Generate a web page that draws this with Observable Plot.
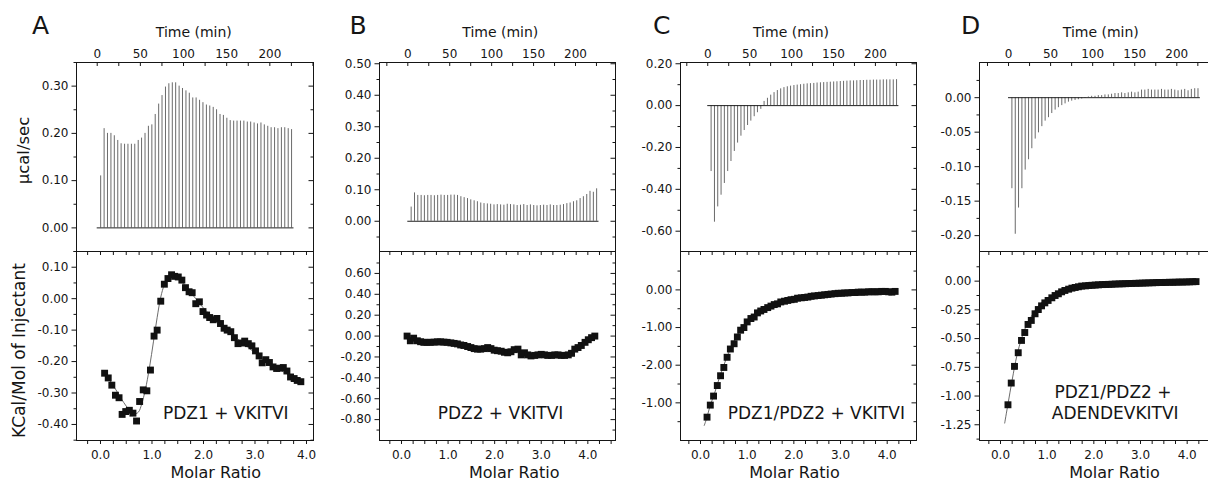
<!DOCTYPE html>
<html><head><meta charset="utf-8">
<script src="https://cdn.jsdelivr.net/npm/d3@7"></script>
<script src="https://cdn.jsdelivr.net/npm/@observablehq/plot@0.6"></script>
<style>
body{margin:0;background:#fff;}
#chart{position:relative;width:1208px;height:482px;overflow:hidden;background:#fff;}
#chart svg{position:absolute;}
</style></head><body><div id="chart"></div>
<script>
// ---------- DATA ----------
const injectionTimes = [4.0,8.0,11.9,15.9,19.8,23.8,27.7,31.7,35.6,39.6,43.5,47.5,51.4,55.4,59.3,63.3,67.2,71.2,75.1,79.1,83.0,87.0,90.9,94.9,98.8,102.8,106.7,110.7,114.6,118.6,122.5,126.5,130.4,134.4,138.3,142.3,146.2,150.2,154.1,158.1,162.0,166.0,169.9,173.9,177.8,181.8,185.7,189.7,193.6,197.6,201.5,205.5,209.4,213.4,217.3,221.3,225.2];
const runTime = [0, 228];

const peaksA = [0.11,0.21,0.20,0.20,0.195,0.185,0.178,0.177,0.177,0.177,0.177,0.185,0.19,0.20,0.215,0.218,0.24,0.262,0.28,0.298,0.305,0.307,0.307,0.30,0.295,0.29,0.285,0.275,0.275,0.27,0.265,0.26,0.258,0.255,0.25,0.24,0.238,0.232,0.227,0.226,0.226,0.226,0.226,0.224,0.224,0.222,0.22,0.222,0.218,0.215,0.212,0.212,0.21,0.212,0.212,0.21,0.208];
const peaksB = [0.045,0.09,0.082,0.082,0.081,0.082,0.082,0.081,0.082,0.083,0.082,0.082,0.083,0.083,0.082,0.078,0.075,0.072,0.068,0.065,0.062,0.058,0.056,0.055,0.054,0.052,0.053,0.052,0.051,0.054,0.053,0.052,0.05,0.051,0.053,0.05,0.052,0.05,0.049,0.05,0.051,0.05,0.052,0.05,0.05,0.051,0.053,0.056,0.058,0.062,0.065,0.072,0.078,0.085,0.095,0.092,0.103];
const peaksC = [-0.315,-0.557,-0.484,-0.428,-0.372,-0.315,-0.267,-0.219,-0.179,-0.146,-0.119,-0.095,-0.074,-0.053,-0.034,-0.018,0.02,0.035,0.05,0.062,0.072,0.08,0.086,0.09,0.093,0.096,0.098,0.1,0.102,0.104,0.105,0.106,0.108,0.109,0.11,0.111,0.112,0.113,0.114,0.115,0.116,0.117,0.118,0.118,0.119,0.12,0.12,0.121,0.121,0.122,0.122,0.122,0.123,0.123,0.123,0.123,0.124];
const peaksD = [-0.132,-0.198,-0.160,-0.132,-0.105,-0.090,-0.074,-0.060,-0.051,-0.042,-0.034,-0.029,-0.023,-0.018,-0.0145,-0.0115,-0.009,-0.0065,-0.005,-0.004,-0.003,-0.002,-0.001,0.001,0.002,0.002,0.003,0.003,0.004,0.004,0.005,0.006,0.006,0.007,0.006,0.007,0.008,0.007,0.008,0.011,0.011,0.012,0.011,0.011,0.011,0.012,0.011,0.011,0.012,0.011,0.010,0.011,0.012,0.010,0.012,0.013,0.013];

const molarA = [0.08,0.15,0.22,0.29,0.36,0.42,0.49,0.56,0.63,0.70,0.76,0.83,0.90,0.97,1.04,1.10,1.17,1.24,1.31,1.38,1.44,1.51,1.58,1.65,1.72,1.78,1.85,1.92,1.99,2.06,2.12,2.19,2.26,2.33,2.40,2.46,2.53,2.60,2.67,2.74,2.80,2.87,2.94,3.01,3.08,3.14,3.21,3.28,3.35,3.42,3.48,3.55,3.62,3.69,3.76,3.82,3.89];
const heatA = [-0.237,-0.252,-0.275,-0.307,-0.315,-0.368,-0.359,-0.355,-0.364,-0.389,-0.327,-0.29,-0.293,-0.227,-0.119,-0.10,-0.008,0.046,0.064,0.076,0.071,0.069,0.059,0.035,0.022,0.019,-0.016,-0.010,-0.041,-0.052,-0.06,-0.067,-0.063,-0.079,-0.094,-0.10,-0.105,-0.124,-0.143,-0.141,-0.135,-0.143,-0.150,-0.166,-0.182,-0.204,-0.194,-0.203,-0.217,-0.222,-0.221,-0.219,-0.23,-0.249,-0.254,-0.26,-0.264];
const molarB = [0.12,0.19,0.26,0.34,0.41,0.48,0.55,0.62,0.70,0.77,0.84,0.91,0.98,1.06,1.13,1.20,1.27,1.34,1.42,1.49,1.56,1.63,1.70,1.78,1.85,1.92,1.99,2.06,2.14,2.21,2.28,2.35,2.42,2.50,2.57,2.64,2.71,2.78,2.86,2.93,3.00,3.07,3.14,3.22,3.29,3.36,3.43,3.50,3.58,3.65,3.72,3.79,3.86,3.94,4.01,4.08,4.15];
const heatB = [0.00,-0.045,-0.02,-0.045,-0.054,-0.06,-0.06,-0.06,-0.058,-0.055,-0.055,-0.058,-0.06,-0.065,-0.07,-0.075,-0.085,-0.09,-0.10,-0.11,-0.12,-0.125,-0.125,-0.12,-0.11,-0.12,-0.135,-0.14,-0.145,-0.155,-0.16,-0.15,-0.13,-0.125,-0.18,-0.16,-0.18,-0.19,-0.185,-0.18,-0.175,-0.18,-0.185,-0.185,-0.18,-0.18,-0.185,-0.185,-0.18,-0.165,-0.125,-0.11,-0.09,-0.06,-0.035,-0.015,0.00];
const molarC = [0.14,0.21,0.28,0.36,0.43,0.50,0.57,0.64,0.72,0.79,0.86,0.93,1.00,1.08,1.15,1.22,1.29,1.36,1.44,1.51,1.58,1.65,1.72,1.80,1.87,1.94,2.01,2.08,2.16,2.23,2.30,2.37,2.44,2.52,2.59,2.66,2.73,2.80,2.88,2.95,3.02,3.09,3.16,3.24,3.31,3.38,3.45,3.52,3.60,3.67,3.74,3.81,3.88,3.96,4.03,4.10,4.17];
const heatC = [-3.38,-3.06,-2.82,-2.54,-2.28,-2.06,-1.79,-1.57,-1.43,-1.25,-1.07,-1.00,-0.85,-0.76,-0.72,-0.61,-0.56,-0.52,-0.47,-0.43,-0.39,-0.37,-0.32,-0.30,-0.28,-0.26,-0.25,-0.22,-0.21,-0.20,-0.19,-0.17,-0.16,-0.15,-0.14,-0.13,-0.12,-0.11,-0.10,-0.09,-0.09,-0.08,-0.08,-0.07,-0.07,-0.06,-0.06,-0.06,-0.05,-0.05,-0.05,-0.05,-0.04,-0.04,-0.05,-0.06,-0.04];
const molarD = [0.16,0.23,0.30,0.38,0.45,0.52,0.59,0.66,0.74,0.81,0.88,0.95,1.02,1.10,1.17,1.24,1.31,1.38,1.46,1.53,1.60,1.67,1.74,1.82,1.89,1.96,2.03,2.10,2.18,2.25,2.32,2.39,2.46,2.54,2.61,2.68,2.75,2.82,2.90,2.97,3.04,3.11,3.18,3.26,3.33,3.40,3.47,3.54,3.62,3.69,3.76,3.83,3.90,3.98,4.05,4.12,4.19];
const heatD = [-1.076,-0.887,-0.742,-0.623,-0.516,-0.447,-0.377,-0.342,-0.284,-0.247,-0.215,-0.189,-0.168,-0.145,-0.125,-0.110,-0.093,-0.081,-0.070,-0.061,-0.055,-0.049,-0.043,-0.041,-0.038,-0.036,-0.034,-0.032,-0.030,-0.029,-0.028,-0.027,-0.025,-0.024,-0.023,-0.022,-0.021,-0.020,-0.019,-0.018,-0.017,-0.016,-0.015,-0.014,-0.013,-0.012,-0.012,-0.011,-0.010,-0.010,-0.009,-0.008,-0.008,-0.007,-0.006,-0.005,-0.004];

const fitMolarA = [0.04,0.15,0.3,0.45,0.55,0.62,0.68,0.74,0.8,0.87,0.95,1.03,1.1,1.17,1.24,1.31,1.38,1.45,1.55,1.7,1.85,2.0,2.2,2.4,2.6,2.8,3.0,3.2,3.4,3.6,3.89];
const fitHeatA = [-0.228,-0.252,-0.29,-0.33,-0.352,-0.363,-0.366,-0.36,-0.335,-0.29,-0.22,-0.135,-0.06,0.005,0.045,0.068,0.077,0.072,0.058,0.03,0.0,-0.03,-0.062,-0.092,-0.12,-0.146,-0.172,-0.195,-0.217,-0.237,-0.262];
const fitMolarC = [0.08,0.14,0.2,0.3,0.4,0.5,0.6,0.7,0.8,0.9,1.0,1.1,1.2,1.35,1.5,1.7,1.9,2.2,2.5,2.8,3.2,3.6,4.17];
const fitHeatC = [-3.6,-3.38,-3.1,-2.75,-2.35,-2.0,-1.68,-1.42,-1.18,-0.98,-0.84,-0.71,-0.61,-0.5,-0.41,-0.32,-0.26,-0.19,-0.14,-0.10,-0.07,-0.055,-0.045];
const fitMolarD = [0.09,0.16,0.25,0.35,0.45,0.55,0.7,0.85,1.0,1.2,1.4,1.7,2.0,2.5,3.0,3.5,4.2];
const fitHeatD = [-1.235,-1.07,-0.86,-0.65,-0.5,-0.39,-0.28,-0.2,-0.15,-0.1,-0.072,-0.05,-0.036,-0.024,-0.016,-0.01,-0.005];

// ---------- TEXT & TICKS ----------
const panelLetters = ["A","B","C","D"];
const panelLabelsA = ["PDZ1 + VKITVI"];
const panelLabelsB = ["PDZ2 + VKITVI"];
const panelLabelsC = ["PDZ1/PDZ2 + VKITVI"];
const panelLabelsD = ["PDZ1/PDZ2 +","ADENDEVKITVI"];
const timeTitle = "Time (min)";
const molarTitle = "Molar Ratio";
const powerTitle = "\u03BCcal/sec";
const heatTitle = "KCal/Mol of Injectant";

const timeTickLabels = [0,50,100,150,200];
const timeTicks = [-25,0,25,50,75,100,125,150,175,200,225,250];
const molarTickLabels = [0,1,2,3,4];
const molarTicks = [-0.5,-0.25,0,0.25,0.5,0.75,1,1.25,1.5,1.75,2,2.25,2.5,2.75,3,3.25,3.5,3.75,4,4.25,4.5,4.75];

const topMajorA = [0,0.1,0.2,0.3], topMinorA = [-0.05,0.05,0.15,0.25,0.35];
const botMajorA = [-0.4,-0.3,-0.2,-0.1,0,0.1], botMinorA = [-0.45,-0.35,-0.25,-0.15,-0.05,0.05,0.15];
const topMajorB = [0,0.1,0.2,0.3,0.4,0.5], topMinorB = [-0.05,0.05,0.15,0.25,0.35,0.45];
const botMajorB = [-0.8,-0.6,-0.4,-0.2,0,0.2,0.4,0.6], botMinorB = [-0.9,-0.7,-0.5,-0.3,-0.1,0.1,0.3,0.5,0.7];
const topMajorC = [-0.6,-0.4,-0.2,0,0.2], topMinorC = [-0.5,-0.3,-0.1,0.1];
const botMajorC = [0,-1,-2,-3], botMinorC = [0.5,-0.5,-1.5,-2.5,-3.5];
const botLabelsC = ["0.00","-1.00","-2.00","-1.00"];
const topMajorD = [0,-0.05,-0.1,-0.15,-0.2], topMinorD = [0.025,-0.025,-0.075,-0.125,-0.175];
const botMajorD = [0,-0.25,-0.5,-0.75,-1,-1.25], botMinorD = [0.125,-0.125,-0.375,-0.625,-0.875,-1.125,-1.375];

// ---------- LAYOUT ----------
const FT = 62, FM = 251, FB = 440, TOTAL_H = 482;
const fmt2 = d => d.toFixed(2);
const panels = [
  {letter: panelLetters[0], L: 76, R: 313, svgLeft: 0, timeDomain: [-24, 250.6], molarDomain: [-0.466, 4.136],
   topDomain: [-0.05, 0.35], botDomain: [-0.451, 0.15], peaks: peaksA, molar: molarA, heat: heatA,
   fitX: fitMolarA, fitY: fitHeatA, topMajor: topMajorA, topMinor: topMinorA, botMajor: botMajorA, botMinor: botMinorA,
   botFormat: fmt2, labels: panelLabelsA, labelDx: [30.8], labelDy: [-26.5], letterDx: -36, timeDx: -1.2, molarDx: 20.8, yTitles: true},
  {letter: panelLetters[1], L: 379, R: 615, svgLeft: 309, timeDomain: [-33.75, 247.7], molarDomain: [-0.472, 4.594],
   topDomain: [-0.096, 0.504], botDomain: [-1.0, 0.81], peaks: peaksB, molar: molarB, heat: heatB,
   fitX: null, fitY: null, topMajor: topMajorB, topMinor: topMinorB, botMajor: botMajorB, botMinor: botMinorB,
   botFormat: fmt2, labels: panelLabelsB, labelDx: [3], labelDy: [-26.5], letterDx: -21.5, timeDx: 2.8, molarDx: 16.7},
  {letter: panelLetters[2], L: 680, R: 916, svgLeft: 610, timeDomain: [-32.5, 249], molarDomain: [-0.4286, 4.628],
   topDomain: [-0.697, 0.206], botDomain: [-4.0, 1.02], peaks: peaksC, molar: molarC, heat: heatC,
   fitX: fitMolarC, fitY: fitHeatC, topMajor: topMajorC, topMinor: topMinorC, botMajor: botMajorC, botMinor: botMinorC,
   botFormat: d => botLabelsC[botMajorC.indexOf(d)], labels: panelLabelsC, labelDx: [17.8], labelDy: [-26.9], letterDx: -18.7, timeDx: -7.5, molarDx: -4},
  {letter: panelLetters[3], L: 979, R: 1215, svgLeft: 909, timeDomain: [-34.5, 246], molarDomain: [-0.45, 4.607],
   topDomain: [-0.223, 0.051], botDomain: [-1.387, 0.258], peaks: peaksD, molar: molarD, heat: heatD,
   fitX: fitMolarD, fitY: fitHeatD, topMajor: topMajorD, topMinor: topMinorD, botMajor: botMajorD, botMinor: botMinorD,
   botFormat: fmt2, labels: panelLabelsD, labelDx: [15.5, 17.7], labelDy: [-47.5, -26.5], letterDx: -9, timeDx: 3.3, molarDx: 17}
];

const INK = "#151515";
const FONT = '"DejaVu Sans", Verdana, sans-serif';
const within = dom => v => v >= Math.min(...dom) - 1e-9 && v <= Math.max(...dom) + 1e-9;
const chart = document.getElementById("chart");
const label = (s, opts) => Plot.text([s], {text: d => d, textAnchor: "middle", lineAnchor: "middle", fill: INK, ...opts});

function yTicks(major, minor, dom, W) {
  const mj = major.filter(within(dom)), mn = minor.filter(within(dom));
  return [
    Plot.tickY(mj, {y: d => d, insetLeft: -4.5, insetRight: W, stroke: INK}),
    Plot.tickY(mn, {y: d => d, insetLeft: -2.5, insetRight: W, stroke: INK}),
    Plot.tickY(mj, {y: d => d, insetLeft: W - 4.5, stroke: INK}),
    Plot.tickY(mn, {y: d => d, insetLeft: W - 2.5, stroke: INK})
  ];
}

function topPlot(p) {
  const W = p.R - p.L, H = FM - FT, ml = p.L - p.svgLeft;
  const inj = injectionTimes.map((t, i) => ({t, peak: p.peaks[i]})).filter(d => d.peak != null);
  const inT = timeTicks.filter(within(p.timeDomain));
  const marks = [
    Plot.ruleX(inj, {x: "t", y1: 0, y2: "peak", stroke: "#6a6a6a", strokeWidth: 1}),
    Plot.ruleY([0], {x1: runTime[0], x2: runTime[1], stroke: "#202020", strokeWidth: 1}),
    Plot.frame({stroke: INK}),
    Plot.tickX(inT, {x: d => d, insetBottom: H - 4, stroke: INK}),
    ...yTicks(p.topMajor, p.topMinor, p.topDomain, W),
    Plot.axisX(timeTickLabels, {anchor: "top", tickSize: 0, tickPadding: 4.5, tickFormat: d => String(d), label: null, fontSize: 12, fill: INK}),
    Plot.axisY(p.topMajor.filter(within(p.topDomain)), {anchor: "left", tickSize: 0, tickPadding: 8, tickFormat: fmt2, label: null, fontSize: 12, fill: INK}),
    label(timeTitle, {frameAnchor: "top", dx: p.timeDx, dy: -30.1, fontSize: 14}),
    label(p.letter, {frameAnchor: "top-left", dx: p.letterDx, dy: -36.9, fontSize: 25})
  ];
  if (p.yTitles) marks.push(label(powerTitle, {frameAnchor: "left", rotate: -90, dx: -52.7, dy: -6.5, fontSize: 16.5}));
  const svg = Plot.plot({
    width: ml + W + 12, height: FM, marginLeft: ml, marginRight: 12, marginTop: FT, marginBottom: 0,
    x: {domain: p.timeDomain}, y: {domain: p.topDomain},
    style: {fontFamily: FONT, fontSize: "12px", color: INK, background: "transparent", overflow: "visible"},
    marks
  });
  svg.style.left = p.svgLeft + "px"; svg.style.top = "0px";
  chart.appendChild(svg);
}

function bottomPlot(p) {
  const W = p.R - p.L, H = FB - FM, ml = p.L - p.svgLeft, h = TOTAL_H - FM;
  const pts = p.molar.map((x, i) => ({x, y: p.heat[i]}));
  const inM = molarTicks.filter(within(p.molarDomain));
  const marks = [];
  if (p.fitX) {
    const fit = p.fitX.map((x, i) => ({x, y: p.fitY[i]}));
    marks.push(Plot.line(fit, {x: "x", y: "y", stroke: "#5a5a5a", strokeWidth: 0.9, curve: "catmull-rom"}));
  }
  marks.push(
    Plot.dot(pts, {x: "x", y: "y", symbol: "square", r: 3.9, fill: "#111", stroke: "none"}),
    Plot.frame({stroke: INK}),
    Plot.tickX(inM, {x: d => d, insetBottom: H - 4, stroke: INK}),
    Plot.tickX(inM, {x: d => d, insetTop: H, insetBottom: -4, stroke: INK}),
    ...yTicks(p.botMajor, p.botMinor, p.botDomain, W),
    Plot.axisX(molarTickLabels, {anchor: "bottom", tickSize: 0, tickPadding: 10, tickFormat: d => d.toFixed(1), label: null, fontSize: 12, fill: INK}),
    Plot.axisY(p.botMajor.filter(within(p.botDomain)), {anchor: "left", tickSize: 0, tickPadding: 8, tickFormat: p.botFormat, label: null, fontSize: 12, fill: INK}),
    label(molarTitle, {frameAnchor: "bottom", dx: p.molarDx, dy: 32.6, fontSize: 16})
  );
  p.labels.forEach((s, i) => marks.push(label(s, {frameAnchor: "bottom", dx: p.labelDx[i], dy: p.labelDy[i], fontSize: 17})));
  if (p.yTitles) marks.push(label(heatTitle, {frameAnchor: "left", rotate: -90, dx: -56.8, dy: 4.5, fontSize: 17}));
  const svg = Plot.plot({
    width: ml + W + 12, height: h, marginLeft: ml, marginRight: 12, marginTop: 0, marginBottom: h - H,
    x: {domain: p.molarDomain}, y: {domain: p.botDomain},
    style: {fontFamily: FONT, fontSize: "12px", color: INK, background: "transparent", overflow: "visible"},
    marks
  });
  svg.style.left = p.svgLeft + "px"; svg.style.top = FM + "px";
  chart.appendChild(svg);
}

panels.forEach(p => { topPlot(p); bottomPlot(p); });
</script>
</body></html>
